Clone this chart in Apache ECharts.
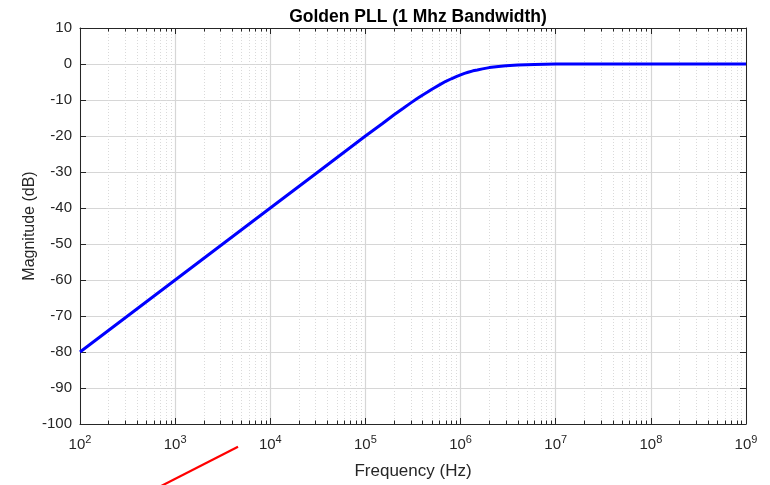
<!DOCTYPE html>
<html>
<head>
<meta charset="utf-8">
<script src="https://cdn.jsdelivr.net/npm/echarts@6/dist/echarts.min.js"></script>
<style>html,body{margin:0;padding:0;background:#fff}#c{width:770px;height:485px}</style>
</head>
<body>
<div id="c"></div>
<script>
// Data
const freqHz = [100, 1e3, 1e4, 3e4, 1e5, 1.5e5, 2e5, 2.5e5, 3e5, 3.5e5, 4e5, 4.5e5, 5e5, 6e5, 7e5, 8e5, 9e5, 1e6, 1.1e6, 1.2e6, 1.35e6, 1.5e6, 1.7e6, 2e6, 2.5e6, 3e6, 4e6, 6e6, 1e7, 3e7, 1e8, 1e9];
const magDb  = [-80, -60, -40, -30.5, -20, -16.6, -14.1, -12.3, -10.8, -9.6, -8.6, -7.8, -7.0, -5.8, -4.8, -4.1, -3.5, -3.0, -2.6, -2.3, -1.9, -1.65, -1.35, -1.0, -0.7, -0.5, -0.28, -0.12, 0, 0, 0, 0];
const redFreq = [545, 4580];
const redMag  = [-118.8, -106.3];
const decadeTicks = [1e2, 1e3, 1e4, 1e5, 1e6, 1e7, 1e8, 1e9];

const minorTicks = [];
for (let i = 0; i < decadeTicks.length - 1; i++) {
  for (let k = 2; k <= 9; k++) minorTicks.push(decadeTicks[i] * k);
}

const txt = '#262626';
const font = 'Liberation Sans, Arial, Helvetica, sans-serif';
const grid = { left: 80, right: 24, top: 28, bottom: 61 };

function majorX(pos, labels) {
  return {
    type: 'log', logBase: 10, min: 100, max: 1e9, position: pos,
    axisLine: { show: true, onZero: false, lineStyle: { color: txt, width: 1 } },
    axisTick: { show: true, inside: true, length: 6, customValues: decadeTicks, lineStyle: { color: txt } },
    axisLabel: labels ? {
      show: true, customValues: decadeTicks, margin: 10, color: txt, fontFamily: font, fontSize: 15,
      formatter: v => '10{sup|' + Math.round(Math.log10(v)) + '}',
      rich: { sup: { fontSize: 11, verticalAlign: 'top', padding: [0, 0, 10, 0], color: txt, fontFamily: font } }
    } : { show: false },
    splitLine: labels ? { show: true, lineStyle: { color: '#d6d6d6', width: 1.2 } } : { show: false },
    name: labels ? 'Frequency (Hz)' : '', nameLocation: 'middle', nameGap: 39, nameMoveOverlap: false,
    nameTextStyle: { color: txt, fontFamily: font, fontSize: 17 }
  };
}
function minorX(pos, showGrid) {
  return {
    type: 'log', logBase: 10, min: 100, max: 1e9, position: pos,
    axisLine: { show: false, onZero: false },
    axisTick: { show: true, inside: true, length: 3.5, customValues: minorTicks, lineStyle: { color: txt } },
    axisLabel: { show: false },
    splitLine: showGrid ? { show: true, lineStyle: { color: '#dadada', width: 1, type: [1, 2] } } : { show: false }
  };
}
function yAx(pos, labels) {
  return {
    type: 'value', min: -100, max: 10, interval: 10, position: pos,
    axisLine: { show: true, onZero: false, lineStyle: { color: txt, width: 1 } },
    axisTick: { show: true, inside: true, length: 6, lineStyle: { color: txt } },
    axisLabel: labels ? { show: true, color: txt, fontFamily: font, fontSize: 15, margin: 8 } : { show: false },
    splitLine: labels ? { show: true, lineStyle: { color: '#d6d6d6', width: 1.2 } } : { show: false },
    name: labels ? 'Magnitude (dB)' : '', nameLocation: 'middle', nameGap: 42, nameMoveOverlap: false,
    nameTextStyle: { color: txt, fontFamily: font, fontSize: 16 }
  };
}

const chart = echarts.init(document.getElementById('c'), null, { renderer: 'canvas' });
chart.setOption({
  backgroundColor: '#ffffff',
  animation: false,
  title: {
    text: 'Golden PLL (1 Mhz Bandwidth)', left: 413, textAlign: 'center', top: 3,
    textStyle: { color: '#000', fontFamily: font, fontSize: 17.5, fontWeight: 'bold' }
  },
  grid: grid,
  xAxis: [majorX('bottom', true), minorX('bottom', true), majorX('top', false), minorX('top', false)],
  yAxis: [yAx('left', true), yAx('right', false)],
  series: [
    {
      type: 'line', xAxisIndex: 0, yAxisIndex: 0, showSymbol: false, symbol: 'none',
      data: freqHz.map((f, i) => [f, magDb[i]]),
      lineStyle: { color: '#0000ff', width: 3 }, z: 5
    },
    {
      type: 'line', xAxisIndex: 0, yAxisIndex: 0, showSymbol: false, symbol: 'none', clip: false,
      data: redFreq.map((f, i) => [f, redMag[i]]),
      lineStyle: { color: '#ff0000', width: 2.2 }, z: 5
    }
  ]
});
</script>
</body>
</html>
